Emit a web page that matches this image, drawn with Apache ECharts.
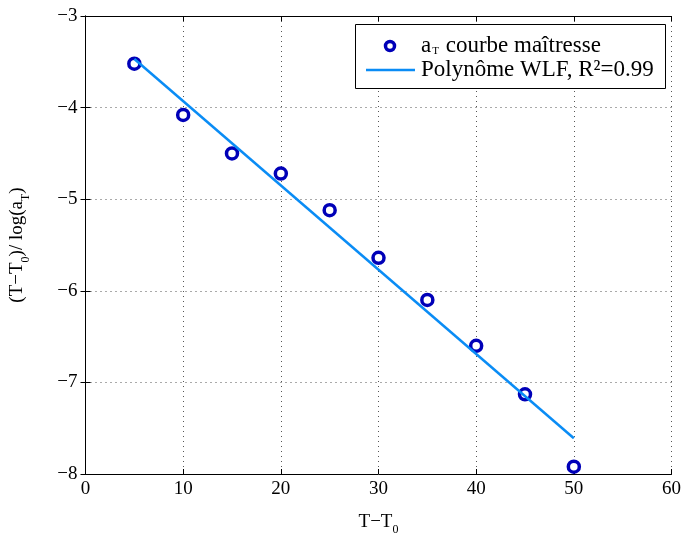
<!DOCTYPE html>
<html><head><meta charset="utf-8">
<script src="https://cdn.jsdelivr.net/npm/echarts@6/dist/echarts.min.js"></script>
<style>html,body{margin:0;padding:0;background:#fff}#c{width:684px;height:541px}</style>
</head><body><div id="c"></div>
<script>
const xValues = [5, 10, 15, 20, 25, 30, 35, 40, 45, 50];
const yValues = [-3.52, -4.08, -4.50, -4.72, -5.12, -5.64, -6.10, -6.60, -7.13, -7.92];
const fitX = [5, 50];
const fitY = [-3.47, -7.61];
const xTicks = [0, 10, 20, 30, 40, 50, 60];
const yTicks = [-8, -7, -6, -5, -4, -3];
const legendLabels = ['{a|a}{s|T}{a| courbe maîtresse}', '{a|Polynôme WLF, R²=0.99}'];

const FONT = 'Liberation Serif';
const MARK = '#0000b8';
const LINE = '#0a8cf5';
const chart = echarts.init(document.getElementById('c'));
const pts = xValues.map((x, i) => [x, yValues[i]]);
const fit = fitX.map((x, i) => [x, fitY[i]]);
const fmt = v => String(v).replace('-', '\u2212');
const legRich = {a: {fontFamily: FONT, fontSize: 23, color: '#000'}, s: {fontFamily: FONT, fontSize: 11, color: '#000', verticalAlign: 'bottom', padding: [9, 1, 0, 1]}};
chart.setOption({
  animation: false,
  backgroundColor: '#fff',
  grid: {left: 84, right: 7, top: 16, bottom: 63},
  legend: {show: false},
  graphic: [
    {type: 'rect', left: 355, top: 24, shape: {width: 310, height: 64}, style: {fill: '#fff', stroke: '#000', lineWidth: 1}, z: 10},
    {type: 'circle', shape: {cx: 390, cy: 46, r: 4.5}, style: {fill: '#fff', stroke: MARK, lineWidth: 3.5}, z: 11},
    {type: 'line', shape: {x1: 366, y1: 70, x2: 415, y2: 70}, style: {stroke: LINE, lineWidth: 2.5}, z: 11},
    {type: 'text', left: 421, top: 34, style: {text: legendLabels[0], rich: legRich, fill: '#000'}, z: 11},
    {type: 'text', left: 421, top: 58, style: {text: legendLabels[1], rich: legRich, fill: '#000'}, z: 11}
  ],
  xAxis: [{
    type: 'value', min: 0, max: 60, interval: 10,
    name: 'T\u2212T{s|0}', nameLocation: 'middle', nameGap: 34,
    nameTextStyle: {fontFamily: FONT, fontSize: 19, color: '#000', rich: {s: {fontFamily: FONT, fontSize: 12, verticalAlign: 'top', padding: [16, 0, 0, 0]}}},
    axisLine: {lineStyle: {color: '#000', width: 1}},
    axisTick: {inside: true, length: 5, lineStyle: {color: '#000'}},
    axisLabel: {fontFamily: FONT, fontSize: 19, color: '#000', margin: 6, formatter: fmt},
    splitLine: {show: true, lineStyle: {color: '#555', type: [1, 4], width: 1}}
  }, {
    type: 'value', min: 0, max: 60, interval: 10, position: 'top',
    axisLine: {show: true, lineStyle: {color: '#000'}},
    axisTick: {inside: true, length: 5, lineStyle: {color: '#000'}},
    axisLabel: {show: false}, splitLine: {show: false}
  }],
  yAxis: [{
    type: 'value', min: -8, max: -3, interval: 1,
    name: '(T\u2212T{s|0})/ log(a{s|T})', nameLocation: 'middle', nameGap: 54, nameRotate: 90,
    nameTextStyle: {fontFamily: FONT, fontSize: 19, color: '#000', rich: {s: {fontFamily: FONT, fontSize: 12, verticalAlign: 'top', padding: [16, 0, 0, 0]}}},
    axisLine: {show: true, lineStyle: {color: '#000', width: 1}},
    axisTick: {inside: true, length: 5, lineStyle: {color: '#000'}},
    axisLabel: {fontFamily: FONT, fontSize: 19, color: '#000', margin: 8, formatter: fmt},
    splitLine: {show: true, lineStyle: {color: '#555', type: [1, 4], width: 1}}
  }, {
    type: 'value', min: -8, max: -3, interval: 1, position: 'right',
    axisLine: {show: true, lineStyle: {color: '#000'}},
    axisTick: {show: true, inside: true, length: 5, lineStyle: {color: '#000'}},
    axisLabel: {show: false}, splitLine: {show: false}
  }],
  series: [{
    name: 'a', type: 'scatter', data: pts, symbol: 'circle', symbolSize: 11,
    itemStyle: {color: '#fff', borderColor: MARK, borderWidth: 3.5, opacity: 1},
    z: 3
  }, {
    name: 'fit', type: 'line', data: fit, showSymbol: false, symbol: 'none',
    lineStyle: {color: LINE, width: 2.5},
    z: 4
  }]
});
</script></body></html>
